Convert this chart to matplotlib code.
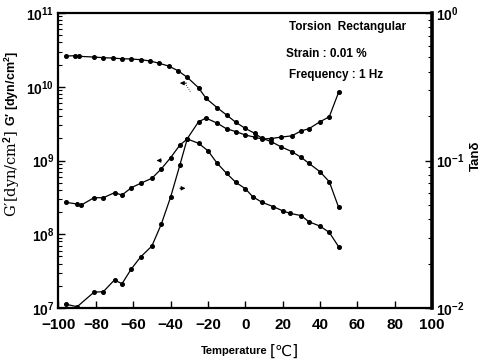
import numpy as np
import matplotlib
matplotlib.use("Agg")
import matplotlib.pyplot as plt
from matplotlib import font_manager
from matplotlib.ticker import LogLocator, NullFormatter, FixedLocator

# storage modulus G'
t_gp = [-96, -91, -89, -81, -76, -71, -66, -61, -56, -51, -46, -41, -36, -31, -25,
        -21, -15, -10, -5, 0, 5, 9, 14, 19, 25, 30, 34, 40, 45, 50]
g_p = [2.61e10, 2.64e10, 2.59e10, 2.53e10, 2.48e10, 2.45e10, 2.40e10, 2.38e10, 2.33e10,
       2.24e10, 2.08e10, 1.91e10, 1.65e10, 1.34e10, 9.7e9, 6.97e9, 5.2e9, 4.14e9,
       3.29e9, 2.73e9, 2.34e9, 2.0e9, 1.80e9, 1.54e9, 1.32e9, 1.10e9, 9.2e8, 7.05e8,
       5.16e8, 2.32e8]

# loss modulus G''
t_gpp = [-96, -90, -88, -81, -76, -70, -66, -61, -56, -50, -45, -40, -35, -31, -25,
         -20, -15, -10, -5, 0, 4, 9, 15, 20, 24, 30, 34, 40, 45, 50]
g_pp = [2.71e8, 2.57e8, 2.47e8, 3.13e8, 3.13e8, 3.66e8, 3.40e8, 4.28e8, 4.91e8, 5.74e8,
        7.67e8, 1.09e9, 1.62e9, 1.96e9, 1.71e9, 1.36e9, 9.16e8, 6.7e8, 5.04e8, 4.16e8,
        3.23e8, 2.71e8, 2.37e8, 2.08e8, 1.92e8, 1.79e8, 1.48e8, 1.29e8, 1.06e8, 6.78e7]

# tan delta
t_tan = [-96, -90, -81, -76, -70, -66, -61, -56, -50, -45, -40, -35, -31, -25, -21,
         -15, -10, -5, 0, 5, 9, 14, 19, 25, 30, 34, 40, 45, 50]
tan_d = [0.0106, 0.0102, 0.0128, 0.0129, 0.0155, 0.0146, 0.0184, 0.0222, 0.0263, 0.0369,
         0.0563, 0.0932, 0.141, 0.183, 0.194, 0.179, 0.164, 0.157, 0.149, 0.144, 0.140,
         0.141, 0.144, 0.147, 0.159, 0.164, 0.183, 0.198, 0.29]

x_ticks = [-100, -80, -60, -40, -20, 0, 20, 40, 60, 80, 100]
x_labels = ["\u2212100", "\u221280", "\u221260", "\u221240", "\u221220",
            "0", "20", "40", "60", "80", "100"]

names = {f.name for f in font_manager.fontManager.ttflist}
narrow = "Liberation Sans Narrow" if "Liberation Sans Narrow" in names else "Liberation Sans"
fam = [narrow, "DejaVu Sans"]

plt.rcParams["font.family"] = fam
plt.rcParams["font.weight"] = "bold"
plt.rcParams["mathtext.fontset"] = "custom"
plt.rcParams["mathtext.rm"] = narrow + ":bold"
plt.rcParams["mathtext.it"] = narrow + ":bold"
plt.rcParams["mathtext.bf"] = narrow + ":bold"

fig = plt.figure(figsize=(4.85, 3.62), dpi=100)
ax = fig.add_axes([0.1206, 0.1492, 0.7701, 0.8148])
ax2 = ax.twinx()

line_kw = dict(color="black", lw=0.9, marker="o", ms=2.6, mfc="black", mec="black")
ax.plot(t_gp, g_p, **line_kw)
ax.plot(t_gpp, g_pp, **line_kw)
ax2.plot(t_tan, tan_d, **line_kw)

ax.set_yscale("log")
ax.set_ylim(1e7, 1e11)
ax.set_xlim(-100, 100)
ax2.set_yscale("log")
ax2.set_ylim(1e-2, 1e0)

ax.xaxis.set_major_locator(FixedLocator(x_ticks))
ax.set_xticklabels(x_labels, fontsize=11)
ax.tick_params(axis="x", direction="in", length=5, width=1, top=False, pad=7)
ax.tick_params(axis="y", which="major", direction="in", length=5, width=1, labelsize=10, pad=3)
ax.tick_params(axis="y", which="minor", direction="in", length=3, width=0.8)
ax.yaxis.set_minor_locator(LogLocator(base=10, subs=np.arange(2, 10), numticks=20))
ax.yaxis.set_minor_formatter(NullFormatter())

ax2.tick_params(axis="y", which="major", direction="in", length=5, width=1, labelsize=10, pad=3)
ax2.tick_params(axis="y", which="minor", direction="in", length=3, width=0.8)
ax2.yaxis.set_minor_locator(LogLocator(base=10, subs=np.arange(2, 10), numticks=20))
ax2.yaxis.set_minor_formatter(NullFormatter())

for s in ["left", "top", "bottom"]:
    ax.spines[s].set_linewidth(1.6)
ax2.spines["right"].set_linewidth(2.6)
for s in ["left", "top", "bottom"]:
    ax2.spines[s].set_visible(False)

# indicator arrows
arr = dict(arrowstyle="-|>", lw=0.7, color="black", mutation_scale=6)
ax.annotate("", xy=(-36.5, 1.12e10), xytext=(-30, 1.12e10), arrowprops=arr)
ax.plot([-31.5, -29], [1.05e10, 8.3e9], color="black", lw=0.6, ls=":")
ax.annotate("", xy=(-49, 1.0e9), xytext=(-43.5, 1.0e9), arrowprops=arr)
ax.annotate("", xy=(-30.5, 4.2e8), xytext=(-36.5, 4.2e8), arrowprops=arr)

# condition text
ax.text(0.618, 0.952, "Torsion  Rectangular", transform=ax.transAxes, fontsize=8.5,
        ha="left", va="center")
ax.text(0.61, 0.86, "Strain : 0.01 %", transform=ax.transAxes, fontsize=8.5,
        ha="left", va="center")
ax.text(0.617, 0.79, "Frequency : 1 Hz", transform=ax.transAxes, fontsize=8.5,
        ha="left", va="center")

# axis labels
fig.text(0.552, 0.03, "Temperature", fontsize=8, ha="right", va="center",
         family=fam, weight="bold")
fig.text(0.557, 0.03, "[\u2103]", fontsize=11, ha="left", va="center",
         family=["DejaVu Sans"], weight="normal")
fig.text(0.025, 0.755, "G\u2032 [dyn/cm$^2$]", rotation=90, fontsize=9,
         ha="center", va="center")
fig.text(0.025, 0.52, "G\u2032[dyn/cm$^2$]", rotation=90, fontsize=10.5,
         ha="center", va="center", family=["DejaVu Serif"], weight="normal")
fig.text(0.982, 0.57, "Tan\u03b4", rotation=90, fontsize=9.5, ha="center", va="center",
         family=fam, weight="bold")

fig.savefig("out.png", dpi=100)
